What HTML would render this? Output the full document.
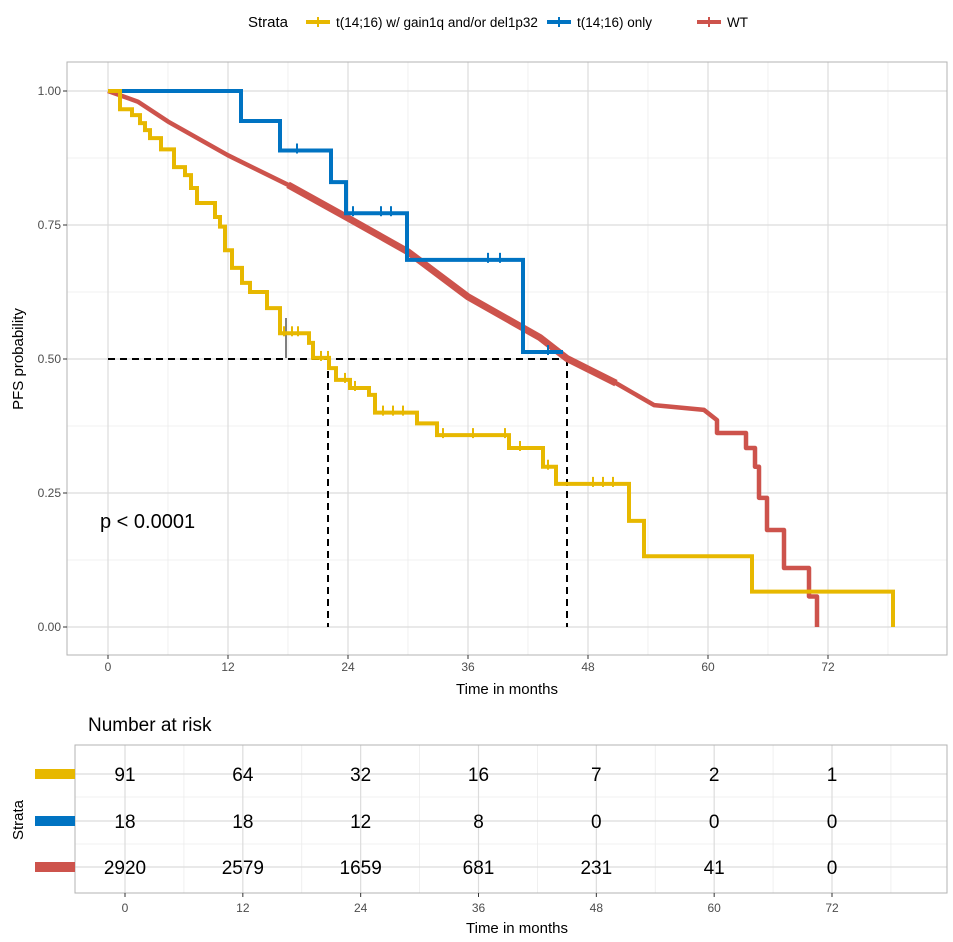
<!DOCTYPE html>
<html><head><meta charset="utf-8"><style>
body{margin:0;background:#fff}
svg{display:block;font-family:"Liberation Sans",Arial,sans-serif}
</style></head><body>
<svg id="c" width="953" height="942" xmlns="http://www.w3.org/2000/svg"></svg>
<script>
const xTicks=[0,12,24,36,48,60,72];
const yTicks=[0,0.25,0.5,0.75,1];
const yTickLabels=["0.00","0.25","0.50","0.75","1.00"];
const strataNames=["t(14;16) w/ gain1q and/or del1p32","t(14;16) only","WT"];
const strataColors=["#E7B800","#0073C2","#CD534C"];
const yelT=[0,1.2,1.2,2.4,3.2,3.7,4.2,5.3,6.6,7.7,8.3,8.9,10.7,11.2,11.7,12.4,13.4,14.2,15.9,17.2,20.1,20.5,22.1,22.8,24.2,26.1,26.7,30.9,32.9,40.1,43.5,44.8,52.1,53.6,64.4,78.5];
const yelS=[1,0.99,0.966,0.955,0.94,0.927,0.912,0.891,0.858,0.843,0.819,0.791,0.765,0.747,0.703,0.67,0.642,0.625,0.595,0.548,0.53,0.502,0.483,0.461,0.446,0.433,0.40,0.38,0.358,0.334,0.299,0.267,0.198,0.132,0.066,0];
const bluT=[0,13.3,17.2,22.3,23.8,29.9,41.5,45.5];
const bluS=[1,0.944,0.889,0.830,0.772,0.685,0.513,0.513];
const redT=[0,3,6,12,18,24,30,36,43.2,45.9,50.8,54.6,59.6,60.9,60.9,63.8,63.8,64.7,64.7,65.1,65.1,65.9,65.9,67.6,67.6,70.1,70.1,70.9,70.9];
const redS=[1,0.98,0.943,0.88,0.825,0.763,0.70,0.616,0.54,0.501,0.455,0.414,0.405,0.386,0.362,0.362,0.334,0.334,0.299,0.299,0.241,0.241,0.181,0.181,0.11,0.11,0.057,0.057,0];
const yelCens=[17.6,18.4,19.0,21.3,22.0,23.7,24.7,27.5,28.5,29.5,33.5,36.5,39.7,41.2,44.0,48.5,49.5,50.5];
const bluCens=[18.9,24.5,27.3,28.3,38.0,39.2,44.0];
const riskRows=[[91,64,32,16,7,2,1],[18,18,12,8,0,0,0],[2920,2579,1659,681,231,41,0]];
const medianT=[22.0,45.9];

const svg=document.getElementById('c');
const NS="http://www.w3.org/2000/svg";
function mk(tag,at,parent,name,inter){const e=document.createElementNS(NS,tag);for(const k in at)e.setAttribute(k,at[k]);


(parent||svg).appendChild(e);return e;}
function txt(x,y,s,size,anchor,name,extra){const t=mk('text',Object.assign({x:x,y:y,'font-size':size,'text-anchor':anchor||'start',fill:'#000'},extra||{}),null,name,false);t.textContent=s;return t;}

// main plot scales
const X=t=>108+10*t, Y=s=>627-536*s;
const PL=67,PR=947,PT=62,PB=655;
mk('rect',{x:PL,y:PT,width:PR-PL,height:PB-PT,fill:'#fff'},null,'plot-panel',false);
for(let m=6;m<=84;m+=12){const x=X(m);if(x<PR)mk('line',{x1:x,x2:x,y1:PT,y2:PB,stroke:'#ececec','stroke-width':0.8},null,'minor-gridline-x',false);}
[0.125,0.375,0.625,0.875].forEach(s=>mk('line',{x1:PL,x2:PR,y1:Y(s),y2:Y(s),stroke:'#ececec','stroke-width':0.8},null,'minor-gridline-y',false));
xTicks.forEach(t=>mk('line',{x1:X(t),x2:X(t),y1:PT,y2:PB,stroke:'#dcdcdc','stroke-width':1.2},null,'gridline-x',false));
yTicks.forEach(s=>mk('line',{x1:PL,x2:PR,y1:Y(s),y2:Y(s),stroke:'#dcdcdc','stroke-width':1.2},null,'gridline-y',false));
mk('rect',{x:PL,y:PT,width:PR-PL,height:PB-PT,fill:'none',stroke:'#b3b3b3','stroke-width':1},null,'plot-border',false);
yTicks.forEach((s,i)=>{mk('line',{x1:PL-4,x2:PL,y1:Y(s),y2:Y(s),stroke:'#333'},null,'y-tick',false);
txt(PL-6,Y(s)+4,yTickLabels[i],12,'end','y-tick-label',{fill:'#4d4d4d'});});
xTicks.forEach(t=>{mk('line',{x1:X(t),x2:X(t),y1:PB,y2:PB+4,stroke:'#333'},null,'x-tick',false);
txt(X(t),PB+16,String(t),12,'middle','x-tick-label',{fill:'#4d4d4d'});});
txt(507,694,'Time in months',15,'middle','x-axis-title');
txt(23,359,'PFS probability',15,'middle','y-axis-title',{transform:'rotate(-90 23 359)'});

function stepPath(T,S){let d='M'+X(T[0])+','+Y(S[0]);for(let i=1;i<T.length;i++){d+=' H'+X(T[i])+' V'+Y(S[i]);}return d;}
function linePath(T,S){return T.map((t,i)=>(i?'L':'M')+X(t)+','+Y(S[i])).join(' ');}
function valAt(T,S,t){let v=S[0];for(let i=0;i<T.length;i++){if(T[i]<=t)v=S[i];}return v;}

// median lines
mk('line',{x1:X(0),x2:X(medianT[1]),y1:Y(0.5),y2:Y(0.5),stroke:'#000','stroke-width':2,'stroke-dasharray':'7,5'},null,'median-hline',false);
medianT.forEach(t=>mk('line',{x1:X(t),x2:X(t),y1:Y(0.5),y2:Y(0),stroke:'#000','stroke-width':2,'stroke-dasharray':'7,5'},null,'median-vline',false));
mk('line',{x1:286,x2:286,y1:318,y2:358,stroke:'#000','stroke-width':1},null,'median-marker',false);

// curves
mk('path',{d:linePath(redT,redS),fill:'none',stroke:strataColors[2],'stroke-width':4.5,'stroke-linejoin':'round'},null,'curve-wt',false);
mk('path',{d:linePath(redT.slice(4,11),redS.slice(4,11)),fill:'none',stroke:strataColors[2],'stroke-width':7},null,'curve-wt-censor-band',false);
mk('path',{d:stepPath(bluT,bluS),fill:'none',stroke:strataColors[1],'stroke-width':4},null,'curve-t1416-only',false);
mk('path',{d:stepPath(yelT,yelS),fill:'none',stroke:strataColors[0],'stroke-width':4},null,'curve-t1416-gain',false);
yelCens.forEach(t=>{const y=Y(valAt(yelT,yelS,t));mk('line',{x1:X(t),x2:X(t),y1:y-7,y2:y+3,stroke:strataColors[0],'stroke-width':2},null,'censor-mark-gain',false);});
bluCens.forEach(t=>{const y=Y(valAt(bluT,bluS,t));mk('line',{x1:X(t),x2:X(t),y1:y-7,y2:y+3,stroke:strataColors[1],'stroke-width':2},null,'censor-mark-only',false);});
txt(100,528,'p < 0.0001',20,'start','p-value');

// legend
txt(248,27,'Strata',15,'start','legend-title');
const lx=[306,547,697];
strataNames.forEach((n,i)=>{const g=mk('g',{},null,'legend-entry',true);
mk('line',{x1:lx[i],x2:lx[i]+24,y1:22,y2:22,stroke:strataColors[i],'stroke-width':4},g,'legend-key-line',false);
mk('line',{x1:lx[i]+12,x2:lx[i]+12,y1:17,y2:27,stroke:strataColors[i],'stroke-width':2},g,'legend-key-tick',false);
const t=mk('text',{x:lx[i]+30,y:27,'font-size':13.5,fill:'#000'},g,'legend-label',false);t.textContent=n;});

// risk table
const RX=t=>125+t*(707/72);
const RL=75,RR=947,RT=745,RB=893;const rowY=[774,821,867];
txt(88,731,'Number at risk',19,'start','risk-table-title');
for(let m=6;m<=84;m+=12){const x=RX(m);if(x<RR)mk('line',{x1:x,x2:x,y1:RT,y2:RB,stroke:'#ececec','stroke-width':0.8},null,'risk-minor-gridline',false);}
[797,844].forEach(y=>mk('line',{x1:RL,x2:RR,y1:y,y2:y,stroke:'#ececec','stroke-width':0.8},null,'risk-minor-gridline',false));
xTicks.forEach(t=>mk('line',{x1:RX(t),x2:RX(t),y1:RT,y2:RB,stroke:'#dcdcdc','stroke-width':1.2},null,'risk-gridline',false));
rowY.forEach(y=>mk('line',{x1:RL,x2:RR,y1:y,y2:y,stroke:'#dcdcdc','stroke-width':1.2},null,'risk-gridline',false));
mk('rect',{x:RL,y:RT,width:RR-RL,height:RB-RT,fill:'none',stroke:'#b3b3b3'},null,'risk-table-border',false);
riskRows.forEach((row,r)=>{
mk('rect',{x:35,y:rowY[r]-5,width:40,height:10,fill:strataColors[r]},null,'risk-strata-key',false);
row.forEach((v,i)=>txt(RX(xTicks[i]),rowY[r]+7,String(v),19,'middle','risk-count'));});
xTicks.forEach(t=>{mk('line',{x1:RX(t),x2:RX(t),y1:RB,y2:RB+4,stroke:'#333'},null,'risk-x-tick',false);
txt(RX(t),RB+19,String(t),12,'middle','risk-x-tick-label',{fill:'#4d4d4d'});});
txt(517,933,'Time in months',15,'middle','risk-x-axis-title');
txt(23,820,'Strata',15,'middle','risk-y-axis-title',{transform:'rotate(-90 23 820)'});
</script>
</body></html>
